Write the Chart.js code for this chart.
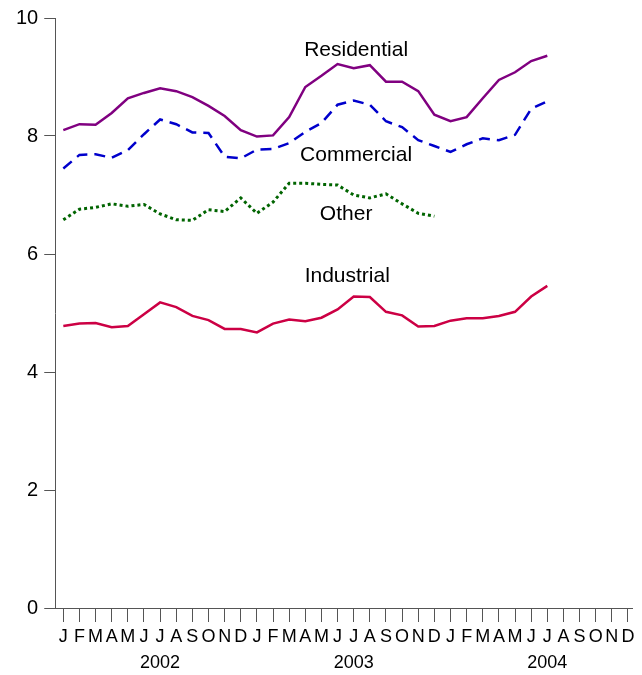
<!DOCTYPE html>
<html>
<head>
<meta charset="utf-8">
<script src="https://cdn.jsdelivr.net/npm/chart.js@4/dist/chart.umd.min.js"></script>
<style>
  html, body { margin: 0; padding: 0; background: #fff; }
  #wrap { width: 642px; height: 675px; }
</style>
</head>
<body>
<div id="wrap"><canvas id="myChart"></canvas></div>
<script>
const monthLetters = ["J", "F", "M", "A", "M", "J", "J", "A", "S", "O", "N", "D"];
const years = ["2002", "2003", "2004"];

const residential = [
  8.10, 8.20, 8.19, 8.39, 8.64, 8.73, 8.81, 8.76, 8.66, 8.51, 8.34, 8.10,
  7.99, 8.01, 8.32, 8.83, 9.02, 9.22, 9.15, 9.20, 8.92, 8.92, 8.76, 8.36,
  8.25, 8.32, 8.64, 8.95, 9.08, 9.27, 9.36,
];
const commercial = [
  7.45, 7.68, 7.69, 7.63, 7.76, 8.03, 8.28, 8.20, 8.06, 8.05, 7.65, 7.62,
  7.77, 7.78, 7.88, 8.07, 8.22, 8.53, 8.60, 8.53, 8.25, 8.15, 7.93, 7.83,
  7.73, 7.86, 7.96, 7.93, 8.02, 8.46, 8.59,
];
const other = [
  6.58, 6.76, 6.79, 6.85, 6.81, 6.84, 6.68, 6.58, 6.57, 6.75, 6.72, 6.95,
  6.69, 6.88, 7.20, 7.20, 7.18, 7.17, 7.00, 6.95, 7.02, 6.85, 6.69, 6.64,
];
const industrial = [
  4.78, 4.82, 4.83, 4.76, 4.78, 4.98, 5.18, 5.10, 4.95, 4.88, 4.73, 4.73,
  4.67, 4.82, 4.89, 4.86, 4.92, 5.06, 5.28, 5.27, 5.02, 4.96, 4.77, 4.78,
  4.87, 4.91, 4.91, 4.95, 5.02, 5.28, 5.46,
];
const seriesNames = ["Residential", "Commercial", "Other", "Industrial"];

// tick labels: month letter, plus year under July
const tickLabels = [];
years.forEach((yr) => {
  monthLetters.forEach((m, i) => {
    tickLabels.push(i === 6 ? [m, yr] : m);
  });
});

const toPoints = (arr) => arr.map((v, i) => ({ x: i, y: v }));

// series name labels written on the plot
const nameSpots = [
  { x: 18.15, y: 9.45 },
  { x: 18.15, y: 7.68 },
  { x: 17.53, y: 6.67 },
  { x: 17.6, y: 5.63 },
];
const seriesLabels = {
  id: "seriesLabels",
  afterDatasetsDraw(chart) {
    const { ctx, scales } = chart;
    ctx.save();
    ctx.font = "21px 'Liberation Sans', Arial, sans-serif";
    ctx.fillStyle = "#000";
    ctx.textAlign = "center";
    ctx.textBaseline = "middle";
    seriesNames.forEach((name, i) => {
      const p = nameSpots[i];
      ctx.fillText(name, scales.x.getPixelForValue(p.x), scales.y.getPixelForValue(p.y));
    });
    ctx.restore();
  },
};

const ctx = document.getElementById("myChart");

new Chart(ctx, {
  type: "line",
  data: {
    datasets: [
      {
        label: seriesNames[0],
        data: toPoints(residential),
        borderColor: "#800080",
        borderWidth: 2.5,
      },
      {
        label: seriesNames[1],
        data: toPoints(commercial),
        borderColor: "#0000cc",
        borderWidth: 2.5,
        borderDash: [11, 7],
      },
      {
        label: seriesNames[2],
        data: toPoints(other),
        borderColor: "#006400",
        borderWidth: 3,
        borderDash: [3, 3],
      },
      {
        label: seriesNames[3],
        data: toPoints(industrial),
        borderColor: "#cc0044",
        borderWidth: 2.5,
      },
    ],
  },
  options: {
    responsive: true,
    maintainAspectRatio: false,
    animation: false,
    layout: { padding: { top: 18, right: 10, left: 10, bottom: 0 } },
    plugins: {
      legend: { display: false },
      tooltip: { enabled: false },
    },
    datasets: {
      line: { pointRadius: 0, tension: 0, fill: false },
    },
    scales: {
      x: {
        type: "linear",
        min: -0.5,
        max: 35.25,
        afterFit: (scale) => { scale.height = 67; },
        grid: { drawOnChartArea: false, drawTicks: true, tickLength: 14, color: "#555" },
        border: { display: true, color: "#555", width: 1 },
        ticks: {
          stepSize: 1,
          includeBounds: false,
          autoSkip: false,
          maxRotation: 0,
          padding: 2,
          color: "#000",
          font: { family: "'Liberation Sans', Arial, sans-serif", size: 18, lineHeight: 1.45 },
          callback: (v) => (Number.isInteger(v) && v >= 0 && v < tickLabels.length ? tickLabels[v] : ""),
        },
      },
      y: {
        min: 0,
        max: 10,
        grid: { drawOnChartArea: false, drawTicks: true, tickLength: 11, color: "#555" },
        border: { display: true, color: "#555", width: 1 },
        ticks: {
          stepSize: 2,
          padding: 6,
          color: "#000",
          font: { family: "'Liberation Sans', Arial, sans-serif", size: 20 },
        },
      },
    },
  },
  plugins: [seriesLabels],
});
</script>
</body>
</html>
